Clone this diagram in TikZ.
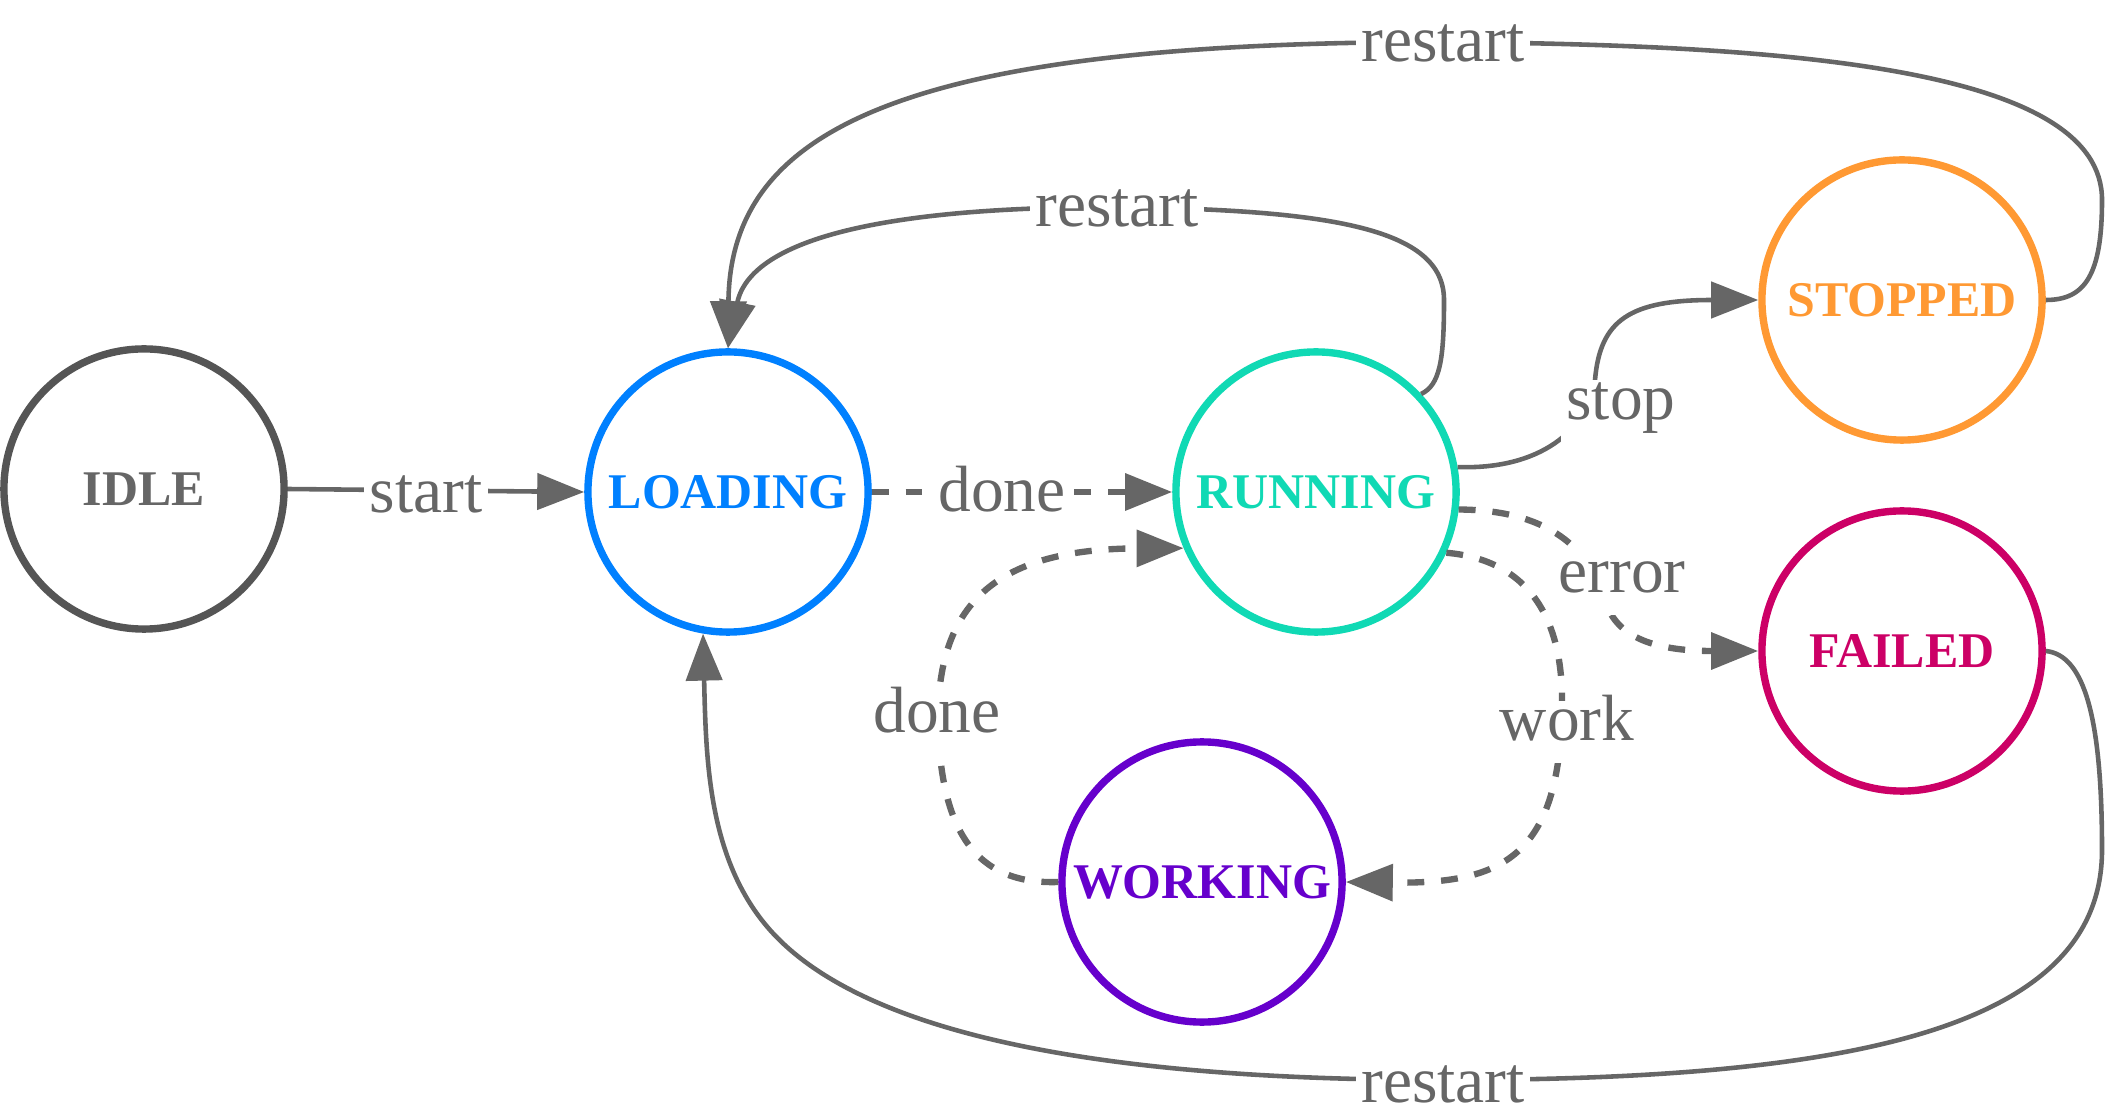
\documentclass[tikz,border=0pt]{standalone}
\usepackage{fontspec}
\setmainfont{Liberation Serif}
\usetikzlibrary{arrows.meta}
\definecolor{edgegray}{HTML}{666666}
\definecolor{idlegray}{HTML}{555555}
\definecolor{cload}{HTML}{0080FF}
\definecolor{crun}{HTML}{10D9B4}
\definecolor{cstop}{HTML}{FF9933}
\definecolor{cfail}{HTML}{CC0066}
\definecolor{cwork}{HTML}{6600CC}
\begin{document}
\begin{tikzpicture}[x=0.01cm,y=-0.01cm,
  state/.style={circle,minimum size=2.8cm,inner sep=0pt,line width=2.1pt,
    font=\fontsize{14.2}{16}\selectfont\bfseries},
  edge/.style={draw=edgegray,line width=1.3pt},
  arr/.style={-{Triangle[length=4.7mm,width=3.6mm]}},
  dsh/.style={line width=1.8pt,dash pattern=on 4.8pt off 4.8pt},
  lbl/.style={fill=white,inner xsep=1.5pt,inner ysep=0.15cm,text=edgegray,
    text height=0.68em,text depth=0.22em,font=\fontsize{18.6}{20}\selectfont}]
\useasboundingbox (0,0) rectangle (2106,1119);

% states
\node[state,draw=idlegray,text=edgegray] (idle) at (144,489) {IDLE};
\node[state,draw=cload,text=cload] (loading) at (728,492) {LOADING};
\node[state,draw=crun,text=crun] (running) at (1316,492) {RUNNING};
\node[state,draw=cstop,text=cstop] (stopped) at (1902,300) {STOPPED};
\node[state,draw=cfail,text=cfail] (failed) at (1902,651) {FAILED};
\node[state,draw=cwork,text=cwork] (working) at (1202,882) {WORKING};

% transitions
\draw[edge,arr] (idle.east) -- (loading.west);
\draw[edge,arr,dsh] (loading.east) -- (running.west);
\draw[edge,arr] (running.43) .. controls (1440,385) and (1444,360) .. (1444,300)
  .. controls (1444,228) and (1330,210) .. (1117,207)
  .. controls (880,207) and (750,240) .. (loading.north);
\draw[edge,arr] (stopped.east) .. controls (2085,300) and (2102,275) .. (2102,200)
  .. controls (2102,70) and (1800,45) .. (1443,42)
  .. controls (900,42) and (730,130) .. (loading.north);
\draw[edge,arr] (running.10) .. controls (1540,470) and (1588,430) .. (1595,380)
  .. controls (1600,320) and (1630,300) .. (stopped.west);
\draw[edge,arr,dsh] (running.-7) .. controls (1550,510) and (1590,550) .. (1605,600)
  .. controls (1615,635) and (1650,651) .. (failed.west);
\draw[edge,arr,dsh] (running.-25) .. controls (1530,560) and (1562,620) .. (1562,700)
  .. controls (1562,860) and (1500,884) .. (working.east);
\draw[edge,arr,dsh] (working.west) .. controls (975,885) and (940,830) .. (938,720)
  .. controls (938,600) and (1000,549) .. (running.203);
\draw[edge,arr] (failed.east) .. controls (2085,655) and (2102,720) .. (2102,850)
  .. controls (2102,1030) and (1850,1080) .. (1443,1080)
  .. controls (1050,1080) and (850,1020) .. (770,930)
  .. controls (708,860) and (706,760) .. (loading.260);

% labels
\node[lbl] (lstart) at (426,504) {start};
\node[lbl] (ldone1) at (1002,503) {done};
\node[lbl] (lrestart1) at (1117,218) {restart};
\node[lbl] (lrestart2) at (1443,53) {restart};
\node[lbl] (lstop) at (1621,411) {stop};
\node[lbl] (lerror) at (1622,584) {error};
\node[lbl] (lwork) at (1567,732) {work};
\node[lbl] (ldone2) at (937,724) {done};
\node[lbl] (lrestart3) at (1443,1094) {restart};
\end{tikzpicture}
\end{document}
